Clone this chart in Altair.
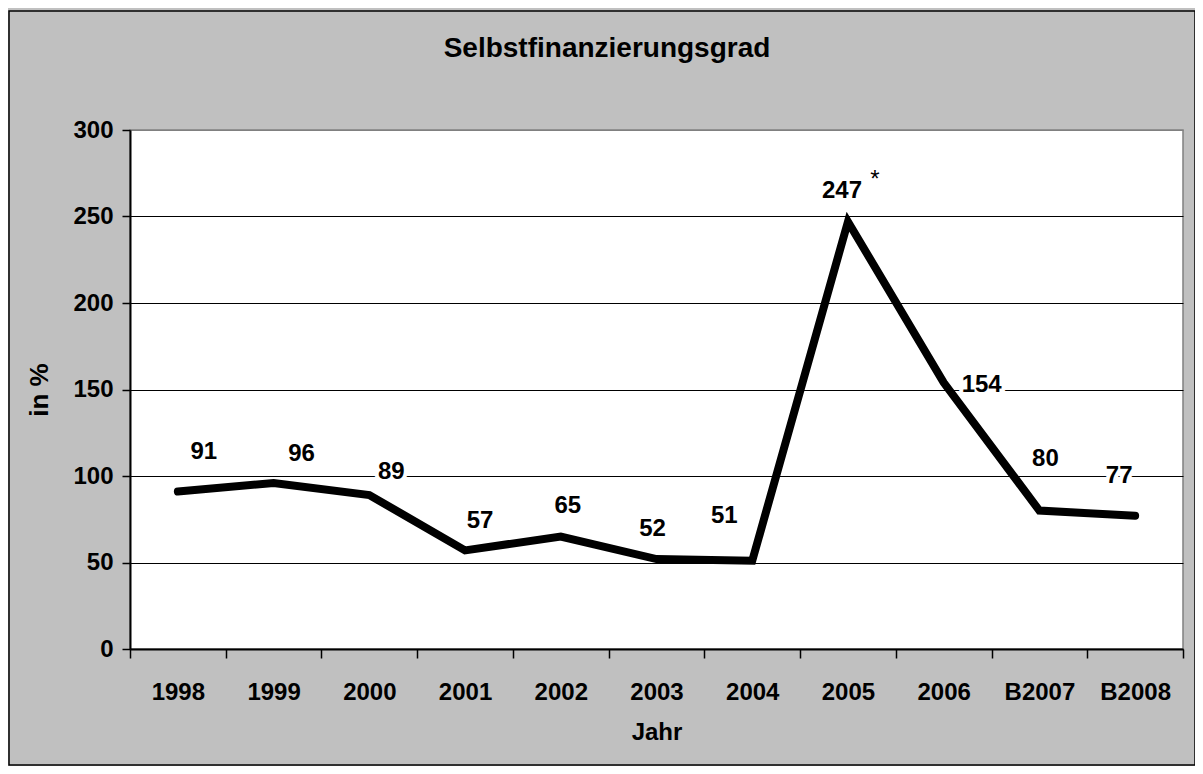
import altair as alt
import pandas as pd

# ---- data ----
years = ["1998", "1999", "2000", "2001", "2002", "2003", "2004", "2005", "2006", "B2007", "B2008"]
values = [91, 96, 89, 57, 65, 52, 51, 247, 154, 80, 77]
# label nudges (px) relative to each point, as placed in the original chart
label_dx = [26, 28, 22, 15, 7, -4, -28, -6, 38, 6, -16]
label_dy = [-40, -29, -23, -29, -31, -30, -45, -31, 2, -52, -40]
footnote_year = "2005"
footnote_mark = "*"

y_ticks = [0, 50, 100, 150, 200, 250, 300]

df = pd.DataFrame({"Jahr": years, "Wert": values})

FONT = "Liberation Sans"

x_enc = alt.X(
    "Jahr:N",
    sort=years,
    scale=alt.Scale(type="band", paddingInner=0, paddingOuter=0),
    axis=alt.Axis(
        title="Jahr",
        labelAngle=0,
        tickBand="extent",
        tickSize=9,
        labelPadding=41,
        labelBaseline="alphabetic",
        titleY=90,
        titleBaseline="alphabetic",
        grid=False,
    ),
)
y_enc = alt.Y(
    "Wert:Q",
    scale=alt.Scale(domain=[0, 300], nice=False, zero=True),
    axis=alt.Axis(
        values=y_ticks,
        title="in %",
        grid=True,
        gridColor={"condition": {"test": "datum.value === 300", "value": "#808080"}, "value": "black"},
        tickSize=8,
        labelPadding=9,
        titleAngle=-90,
        titleX=-91,
        titleY=259.5,
        titleAlign="center",
        titleBaseline="middle",
        titleFontSize=26,
    ),
)

base = alt.Chart(df)

# outer frame of the chart area
frame = alt.Chart(alt.Data(values=[{"f": 1}])).mark_rect(
    fillOpacity=0, stroke="black", strokeWidth=1.5
).encode(
    x=alt.value(-121), x2=alt.value(1065), y=alt.value(-119), y2=alt.value(635)
)

line = base.mark_line(color="black", strokeWidth=8, strokeCap="round", strokeJoin="miter").encode(
    x=x_enc, y=y_enc
)

layers = [line]
for yr, dx, dy in zip(years, label_dx, label_dy):
    sub = base.transform_filter(alt.datum.Jahr == yr)
    halo = sub.mark_text(
        font=FONT, fontSize=24, fontWeight="bold", dx=dx, dy=dy,
        stroke="white", strokeWidth=8, strokeJoin="round", fill="white", baseline="middle",
    ).encode(x=x_enc, y=y_enc, text="Wert:Q")
    txt = sub.mark_text(
        font=FONT, fontSize=24, fontWeight="bold", dx=dx, dy=dy, color="black", baseline="middle",
    ).encode(x=x_enc, y=y_enc, text="Wert:Q")
    layers += [halo, txt]

star = base.transform_filter(alt.datum.Jahr == footnote_year).mark_text(
    font=FONT, fontSize=24, dx=27, dy=-42, color="black", text=footnote_mark,
    baseline="middle",
).encode(x=x_enc, y=y_enc)
layers.append(star)
layers.append(frame)

chart = (
    alt.layer(*layers)
    .properties(
        width=1053,
        height=519,
        title=alt.TitleParams(
            "Selbstfinanzierungsgrad",
            font=FONT, fontSize=28, fontWeight="bold", color="black",
            anchor="middle", frame="group", dx=-49.5, offset=0, dy=75, baseline="alphabetic",
        ),
        autosize=alt.AutoSizeParams(type="none"),
        padding={"left": 122, "top": 122, "right": 12, "bottom": 117},
    )
    .configure(background="#C0C0C0")
    .configure_view(fill="white", stroke="#808080", strokeWidth=1.5)
    .configure_axis(
        domainColor="black", domainWidth=2, tickColor="black", tickWidth=1.5,
        gridWidth=1.2,
        labelFont=FONT, labelFontSize=24, labelFontWeight="bold", labelColor="black",
        titleFont=FONT, titleFontSize=24, titleFontWeight="bold", titleColor="black",
    )
)

chart.save("out.html", embed_options={"renderer": "svg", "actions": False})
